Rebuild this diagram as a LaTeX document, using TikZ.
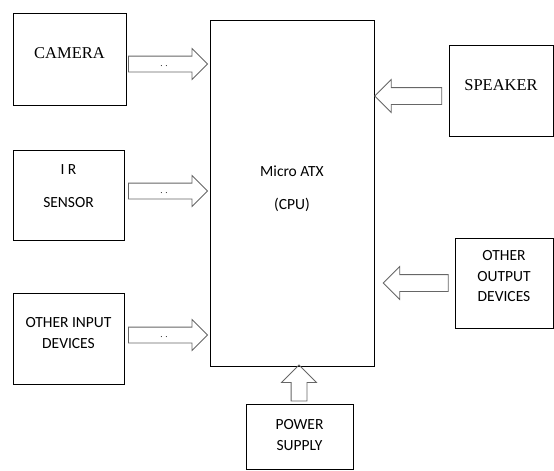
\documentclass[tikz,border=0pt]{standalone}
\usepackage{fontspec}
\setmainfont{Liberation Serif}
\newfontfamily\calibfont{Carlito}
\usetikzlibrary{shapes.arrows}

\begin{document}
\begin{tikzpicture}[x=1pt, y=-1pt,
  box/.style={draw, line width=0.8pt, inner sep=0pt},
  serif/.style={font=\fontsize{16.5}{20}\selectfont},
  sans/.style={font=\calibfont\fontsize{15.5}{20.5}\selectfont, align=center},
  blk/.style={draw=black!60, line width=0.8pt, single arrow, single arrow head extend=7.5pt,
    inner sep=7.5pt, text height=0pt, text depth=0pt, font=\small}
]
\useasboundingbox (0,0) rectangle (554,471);

% boxes
\node[box, minimum width=113pt, minimum height=92pt] (cam) at (69.5,59) {};
\node[box, minimum width=111pt, minimum height=90pt] (ir) at (68.5,195) {};
\node[box, minimum width=111pt, minimum height=91pt] (oin) at (68.5,338.5) {};
\node[box, minimum width=164pt, minimum height=346pt] (cpu) at (292,193) {};
\node[box, minimum width=104pt, minimum height=91pt] (spk) at (501,90.5) {};
\node[box, minimum width=98pt, minimum height=90pt] (oout) at (504,283) {};
\node[box, minimum width=107pt, minimum height=65pt] (pwr) at (299.5,437) {};

% texts
\node[serif] (camtxt) at (69.5,53.5) {CAMERA};
\node[serif] (spktxt) at (501,85) {SPEAKER};
\node[sans] (irtxt) at (68.5,186.5) {I R\\[12.5pt]SENSOR};
\node[sans] (cputxt) at (292,188.5) {Micro ATX\\[12.5pt](CPU)};
\node[sans] (ointxt) at (68.5,333) {OTHER INPUT\\DEVICES};
\node[sans] (oouttxt) at (504,276.5) {OTHER\\OUTPUT\\DEVICES};
\node[sans] (pwrtxt) at (299.5,435) {POWER\\SUPPLY};

% block arrows
\node[blk, minimum height=79pt] (a1) at (164,64) {\raisebox{-2.5pt}{.\hspace{3pt}.}};
\node[blk, minimum height=79pt] (a2) at (164,191) {\raisebox{-2.5pt}{.\hspace{3pt}.}};
\node[blk, minimum height=79pt] (a3) at (164,335) {\raisebox{-2.5pt}{.\hspace{3pt}.}};
\node[blk, minimum height=67pt, inner sep=8pt, single arrow head extend=8pt,
  shape border rotate=180] (a4) at (412.5,96) {};
\node[blk, minimum height=65pt, inner sep=8pt, single arrow head extend=8pt,
  shape border rotate=180] (a5) at (420,283) {};
\node[blk, minimum height=36pt, single arrow head extend=9.5pt,
  shape border rotate=90] (a6) at (299,387) {};
\end{tikzpicture}
\end{document}
